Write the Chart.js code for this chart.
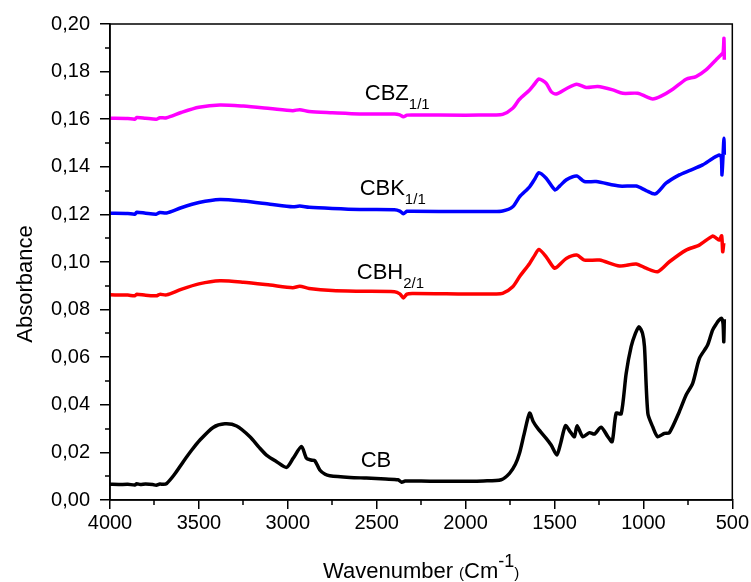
<!DOCTYPE html>
<html>
<head>
<meta charset="utf-8">
<script src="https://cdn.jsdelivr.net/npm/chart.js@4"></script>
<style>
  html, body { margin: 0; padding: 0; background: #fff; }
  #wrap { width: 751px; height: 582px; }
</style>
</head>
<body>
<div id="wrap"><canvas id="grafico" width="751" height="582"></canvas></div>
<script>
// Ticks de los ejes
const ticksX = [4000, 3500, 3000, 2500, 2000, 1500, 1000, 500];
const ticksY = [0, 0.02, 0.04, 0.06, 0.08, 0.10, 0.12, 0.14, 0.16, 0.18, 0.20];

// CB (negro)
const wnCB = [4000, 3950, 3900, 3860, 3850, 3830, 3800, 3760, 3740, 3720, 3700, 3682, 3640, 3588, 3540, 3494, 3420, 3354, 3288, 3213, 3160, 3120, 3063, 3007, 2970, 2923, 2895, 2870, 2848, 2820, 2790, 2764, 2650, 2558, 2450, 2380, 2360, 2340, 2300, 2200, 2000, 1900, 1800, 1753, 1720, 1697, 1670, 1640, 1620, 1594, 1547, 1519, 1487, 1465, 1438, 1410, 1388, 1373, 1341, 1303, 1275, 1238, 1200, 1176, 1153, 1125, 1097, 1069, 1045, 1025, 1005, 994, 975, 948, 920, 882, 854, 798, 760, 723, 685, 639, 611, 590, 574, 560, 552, 548, 545];
const absCB = [0.0066, 0.0065, 0.0066, 0.0063, 0.0068, 0.0065, 0.0067, 0.0065, 0.0062, 0.0067, 0.0066, 0.0069, 0.0105, 0.0161, 0.0210, 0.0252, 0.0305, 0.0320, 0.0311, 0.0266, 0.0220, 0.0189, 0.0161, 0.0137, 0.0175, 0.0225, 0.0175, 0.0168, 0.0165, 0.0126, 0.0108, 0.0102, 0.0095, 0.0092, 0.0088, 0.0085, 0.0075, 0.0080, 0.0080, 0.0079, 0.0079, 0.0080, 0.0085, 0.0112, 0.0150, 0.0196, 0.0280, 0.0365, 0.0330, 0.0301, 0.0259, 0.0231, 0.0189, 0.0240, 0.0312, 0.0285, 0.0266, 0.0312, 0.0266, 0.0283, 0.0277, 0.0306, 0.0266, 0.0245, 0.0365, 0.0362, 0.0532, 0.0644, 0.0700, 0.0728, 0.0700, 0.0644, 0.0364, 0.0308, 0.0266, 0.0280, 0.0283, 0.0371, 0.0441, 0.0490, 0.0595, 0.0651, 0.0714, 0.0740, 0.0756, 0.0763, 0.0740, 0.0665, 0.0760];

// CBH 2/1 (rojo)
const wnCBH = [4000, 3900, 3860, 3850, 3800, 3740, 3720, 3682, 3600, 3500, 3382, 3250, 3100, 2972, 2933, 2880, 2750, 2596, 2400, 2370, 2350, 2330, 2300, 2000, 1850, 1792, 1735, 1697, 1640, 1610, 1588, 1547, 1500, 1470, 1434, 1375, 1332, 1247, 1134, 1041, 985, 920, 854, 760, 686, 611, 590, 573, 560, 554, 548];
const absCBH = [0.0862, 0.0861, 0.0858, 0.0865, 0.0860, 0.0858, 0.0864, 0.0862, 0.0885, 0.0908, 0.0921, 0.0915, 0.0903, 0.0892, 0.0898, 0.0889, 0.0880, 0.0877, 0.0875, 0.0866, 0.0849, 0.0865, 0.0868, 0.0866, 0.0866, 0.0868, 0.0896, 0.0938, 0.0994, 0.1030, 0.1053, 0.1022, 0.0974, 0.0990, 0.1015, 0.1029, 0.1008, 0.1008, 0.0983, 0.0992, 0.0974, 0.0959, 0.1001, 0.1050, 0.1071, 0.1109, 0.1100, 0.1092, 0.1110, 0.1043, 0.1080];

// CBK 1/1 (azul)
const wnCBK = [4000, 3900, 3860, 3850, 3800, 3740, 3720, 3682, 3600, 3500, 3382, 3250, 3100, 2972, 2933, 2880, 2750, 2596, 2400, 2370, 2350, 2330, 2300, 2000, 1850, 1792, 1735, 1697, 1640, 1610, 1588, 1547, 1497, 1470, 1434, 1375, 1332, 1266, 1134, 1041, 985, 933, 873, 798, 742, 667, 611, 573, 562, 558, 552, 547, 545];
const absCBK = [0.1205, 0.1204, 0.1201, 0.1209, 0.1205, 0.1201, 0.1208, 0.1206, 0.1228, 0.1250, 0.1263, 0.1256, 0.1243, 0.1232, 0.1235, 0.1230, 0.1225, 0.1221, 0.1220, 0.1214, 0.1203, 0.1213, 0.1213, 0.1212, 0.1212, 0.1214, 0.1232, 0.1274, 0.1316, 0.1350, 0.1375, 0.1352, 0.1303, 0.1320, 0.1345, 0.1361, 0.1338, 0.1338, 0.1319, 0.1319, 0.1300, 0.1286, 0.1331, 0.1366, 0.1384, 0.1408, 0.1435, 0.1450, 0.1440, 0.1366, 0.1450, 0.1520, 0.1450];

// CBZ 1/1 (magenta)
const wnCBZ = [4000, 3900, 3860, 3850, 3800, 3740, 3720, 3682, 3600, 3500, 3382, 3250, 3100, 2972, 2933, 2880, 2750, 2596, 2400, 2370, 2350, 2330, 2300, 2000, 1850, 1792, 1735, 1697, 1640, 1610, 1588, 1547, 1519, 1491, 1434, 1375, 1322, 1257, 1172, 1116, 1032, 985, 948, 901, 835, 760, 704, 648, 592, 564, 552, 547, 545];
const absCBZ = [0.1604, 0.1603, 0.1600, 0.1607, 0.1604, 0.1600, 0.1606, 0.1606, 0.1628, 0.1650, 0.1660, 0.1655, 0.1645, 0.1636, 0.1640, 0.1632, 0.1627, 0.1622, 0.1622, 0.1618, 0.1610, 0.1617, 0.1618, 0.1617, 0.1618, 0.1620, 0.1646, 0.1684, 0.1723, 0.1750, 0.1769, 0.1751, 0.1716, 0.1706, 0.1728, 0.1747, 0.1733, 0.1737, 0.1723, 0.1709, 0.1709, 0.1695, 0.1685, 0.1697, 0.1726, 0.1768, 0.1779, 0.1807, 0.1849, 0.1870, 0.1880, 0.1940, 0.1850];

// Etiquetas de cada curva (texto, subíndice, posición en datos)
const etiquetas = [
    { texto: 'CBZ', sub: '1/1', wn: 2567, abs: 0.168 },
    { texto: 'CBK', sub: '1/1', wn: 2596, abs: 0.1282 },
    { texto: 'CBH', sub: '2/1', wn: 2612, abs: 0.0929 },
    { texto: 'CB', sub: '', wn: 2590, abs: 0.0139 }
];

const FUENTE = '"Liberation Sans", Arial, sans-serif';

function puntos(xs, ys) {
    return xs.map((x, i) => ({ x: x, y: ys[i] }));
}

function serie(xs, ys, color) {
    return {
        data: puntos(xs, ys),
        borderColor: color,
        borderWidth: 3.5,
        pointRadius: 0,
        tension: 0.25,
        fill: false
    };
}

// Plugin: marco, ticks menores, títulos y etiquetas
const decorado = {
    id: 'decorado',
    afterDraw(chart) {
        const ctx = chart.ctx;
        const a = chart.chartArea;
        const sx = chart.scales.x;
        const sy = chart.scales.y;
        ctx.save();

        // marco
        ctx.strokeStyle = '#000';
        ctx.lineWidth = 1.5;
        ctx.strokeRect(a.left, a.top, a.right - a.left, a.bottom - a.top);

        // ticks menores
        ctx.beginPath();
        for (let i = 0; i < ticksX.length - 1; i++) {
            const px = Math.round(sx.getPixelForValue((ticksX[i] + ticksX[i + 1]) / 2));
            ctx.moveTo(px, a.bottom);
            ctx.lineTo(px, a.bottom + 5);
        }
        for (let i = 0; i < ticksY.length - 1; i++) {
            const py = Math.round(sy.getPixelForValue((ticksY[i] + ticksY[i + 1]) / 2));
            ctx.moveTo(a.left, py);
            ctx.lineTo(a.left - 5, py);
        }
        ctx.stroke();

        // etiquetas de curvas
        ctx.fillStyle = '#000';
        ctx.textBaseline = 'alphabetic';
        ctx.textAlign = 'left';
        etiquetas.forEach(e => {
            const px = sx.getPixelForValue(e.wn);
            const py = sy.getPixelForValue(e.abs);
            ctx.font = '22px ' + FUENTE;
            ctx.fillText(e.texto, px, py);
            const w = ctx.measureText(e.texto).width;
            if (e.sub) {
                ctx.font = '15px ' + FUENTE;
                ctx.fillText(e.sub, px + w, py + 9);
            }
        });

        // título eje Y
        ctx.save();
        ctx.translate(32, 284);
        ctx.rotate(-Math.PI / 2);
        ctx.textAlign = 'center';
        ctx.font = '22px ' + FUENTE;
        ctx.fillText('Absorbance', 0, 0);
        ctx.restore();

        // título eje X: Wavenumber (Cm-1)
        const partes = [
            { t: 'Wavenumber ', f: '22px', dy: 0 },
            { t: '(', f: '15px', dy: 0 },
            { t: 'Cm', f: '22px', dy: 0 },
            { t: '-1', f: '18px', dy: -11 },
            { t: ')', f: '15px', dy: 0 }
        ];
        let total = 0;
        partes.forEach(p => {
            ctx.font = p.f + ' ' + FUENTE;
            p.w = ctx.measureText(p.t).width;
            total += p.w;
        });
        let x = (a.left + a.right) / 2 - total / 2;
        const base = 578;
        partes.forEach(p => {
            ctx.font = p.f + ' ' + FUENTE;
            ctx.fillText(p.t, x, base + p.dy);
            x += p.w;
        });

        ctx.restore();
    }
};

const ctx = document.getElementById('grafico').getContext('2d');

new Chart(ctx, {
    type: 'line',
    data: {
        datasets: [
            serie(wnCB, absCB, '#000000'),
            serie(wnCBH, absCBH, '#ff0000'),
            serie(wnCBK, absCBK, '#0000ff'),
            serie(wnCBZ, absCBZ, '#ff00ff')
        ]
    },
    options: {
        responsive: false,
        animation: false,
        layout: { padding: { left: 0, right: 18, top: 24, bottom: 0 } },
        plugins: {
            legend: { display: false },
            tooltip: { enabled: false }
        },
        scales: {
            x: {
                type: 'linear',
                reverse: true,
                min: 500,
                max: 4000,
                afterFit: s => { s.height = 82; },
                afterBuildTicks: s => { s.ticks = ticksX.map(v => ({ value: v })); },
                ticks: {
                    color: '#000',
                    font: { family: FUENTE, size: 20 },
                    padding: 2,
                    maxRotation: 0,
                    callback: v => String(v)
                },
                grid: { drawOnChartArea: false, tickLength: 9, color: '#000', lineWidth: 1.5 },
                border: { color: '#000', width: 1.5 }
            },
            y: {
                min: 0,
                max: 0.2,
                afterFit: s => { s.width = 110; },
                afterBuildTicks: s => { s.ticks = ticksY.map(v => ({ value: v })); },
                ticks: {
                    color: '#000',
                    font: { family: FUENTE, size: 20 },
                    padding: 10,
                    callback: v => (Math.round(v * 100) / 100).toFixed(2).replace('.', ',')
                },
                grid: { drawOnChartArea: false, tickLength: 10, color: '#000', lineWidth: 1.5 },
                border: { color: '#000', width: 1.5 }
            }
        }
    },
    plugins: [decorado]
});
</script>
</body>
</html>
